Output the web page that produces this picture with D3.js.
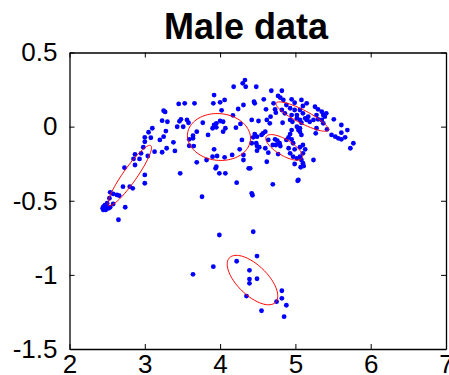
<!DOCTYPE html>
<html>
<head>
<meta charset="utf-8">
<script src="https://cdn.jsdelivr.net/npm/d3@7"></script>
<style>
  body { margin: 0; background: #fff; }
  svg { display: block; }
  text { font-family: "Liberation Sans", Arial, Helvetica, sans-serif; }
</style>
</head>
<body>
<svg id="chart" width="449" height="375"></svg>
<script>
// sample points (x, y)
var ptX = [4.33,4.30,4.34,4.18,4.48,3.92,4.00,4.06,3.91,4.31,4.45,3.45,3.53,3.66,3.25,3.27,4.02,4.24,4.17,3.23,
  3.30,3.46,3.48,3.56,3.58,3.77,3.51,3.43,3.92,3.95,4.00,4.04,3.90,3.95,4.07,4.04,4.21,4.27,4.42,4.51,
  3.10,3.05,3.28,3.25,3.20,3.00,3.00,3.08,3.69,3.64,3.64,3.59,3.84,4.29,4.46,4.42,4.49,3.38,3.65,3.59,
  3.29,3.23,3.13,3.92,4.26,3.40,2.98,2.95,3.04,2.87,2.85,2.93,3.96,3.90,4.06,4.16,4.31,3.82,3.69,4.31,
  4.38,3.95,3.94,3.99,4.07,3.47,2.73,2.87,3.00,3.00,4.22,2.71,2.80,2.84,3.76,4.42,4.43,2.54,2.58,2.63,
  2.66,2.53,2.58,2.74,2.65,2.45,2.47,2.49,2.52,2.45,2.44,2.48,2.54,2.50,3.99,4.44,3.91,3.64,4.22,4.49,
  4.39,4.39,4.39,4.49,4.35,4.82,4.82,4.75,4.88,4.55,4.85,4.70,5.03,
  4.68,4.82,4.77,4.80,4.58,4.46,4.84,4.95,5.08,5.15,4.88,4.99,5.10,4.71,4.73,4.74,4.61,4.67,4.82,4.86,
  4.93,4.99,5.02,5.06,5.10,5.13,5.15,5.17,5.19,5.26,5.30,5.35,5.37,5.39,5.41,5.28,5.24,5.30,5.35,5.37,
  5.51,4.95,4.93,4.96,5.02,5.06,5.08,4.62,4.66,4.83,5.02,5.04,5.06,4.95,4.93,5.06,5.08,5.28,5.27,5.42,
  5.61,5.69,5.48,5.53,5.57,5.61,5.66,5.61,5.77,5.73,4.49,4.44,4.57,4.60,4.55,4.64,4.73,4.76,4.79,4.74,
  4.80,4.70,4.88,4.91,4.95,4.97,4.48,4.52,4.60,4.49,4.91,4.99,5.06,5.10,5.13,4.93,4.97,5.02,5.06,5.10,
  4.64,4.77,4.62,4.99,5.10,5.07,5.11,5.08,5.24,4.40,5.04];
var ptY = [0.314,0.292,0.269,0.269,0.269,0.213,0.164,0.180,0.157,0.146,0.168,0.153,0.157,0.157,0.107,0.099,0.110,0.119,0.076,0.040,
  0.033,0.036,0.049,0.045,0.026,0.026,-0.001,-0.001,0.011,0.022,0.038,0.033,-0.011,-0.005,-0.011,-0.034,-0.007,0.018,0.045,0.038,
  -0.011,-0.038,-0.030,-0.068,-0.090,-0.072,-0.102,-0.075,-0.034,-0.061,-0.079,-0.086,-0.056,-0.090,-0.050,-0.112,-0.131,-0.106,-0.131,-0.129,
  -0.146,-0.173,-0.169,-0.153,-0.153,-0.164,-0.139,-0.180,-0.198,-0.187,-0.218,-0.218,-0.198,-0.203,-0.207,-0.191,-0.191,-0.225,-0.241,-0.225,
  -0.281,-0.270,-0.281,-0.315,-0.315,-0.315,-0.277,-0.259,-0.326,-0.382,-0.378,-0.405,-0.405,-0.416,-0.473,-0.450,-0.463,-0.443,-0.454,-0.461,
  -0.466,-0.483,-0.522,-0.544,-0.628,-0.540,-0.529,-0.540,-0.551,-0.562,-0.551,-0.562,-0.544,-0.517,-0.731,-0.709,-0.945,-0.996,-0.908,-0.873,
  -0.969,-1.028,-1.057,-1.026,-1.143,-1.107,-1.158,-1.181,-1.205,-1.242,-1.282,-0.389,-0.365,
  0.242,0.242,0.207,0.195,0.184,0.157,0.180,0.184,0.180,0.157,0.146,0.161,0.139,0.157,0.117,0.094,0.117,0.067,0.112,0.090,
  0.124,0.112,0.078,0.112,0.090,0.056,0.045,0.067,0.033,0.134,0.117,0.101,0.078,0.067,0.090,0.078,0.045,0.049,0.045,0.022,
  0.049,0.078,0.045,0.033,0.056,0.045,0.026,0.045,0.022,0.026,-0.001,-0.023,-0.011,-0.023,-0.050,-0.034,-0.056,-0.011,-0.045,-0.018,
  0.011,-0.023,-0.056,-0.068,-0.079,-0.086,-0.072,-0.041,-0.112,-0.146,-0.068,-0.072,-0.045,-0.034,-0.056,-0.090,-0.086,-0.095,-0.112,-0.124,
  -0.131,-0.124,-0.090,-0.072,-0.086,-0.112,-0.112,-0.139,-0.146,-0.162,-0.146,-0.153,-0.139,-0.124,-0.153,-0.180,-0.203,-0.214,-0.203,-0.180,
  -0.176,-0.185,-0.237,-0.252,-0.247,-0.274,-0.266,-0.225,-0.225,-0.281,-0.360];

// mixture components: centre, major and minor half-axis vectors
var ellCx = [2.80, 3.985, 5.09, 4.85, 4.43];
var ellCy = [-0.33, -0.070, 0.068, -0.14, -1.035];
var ellMajor = [[0.279, 0.202], [0.418, -0.020], [0.345, -0.091], [0.238, -0.073], [0.306, -0.150]];
var ellMinor = [[0.076, -0.027], [-0.029, -0.157], [-0.040, -0.039], [-0.055, -0.046], [-0.138, -0.073]];

var xTicks = [2, 3, 4, 5, 6, 7];
var yTicks = [0.5, 0, -0.5, -1, -1.5];
var title = "Male data";

// plot box edges in pixels
var boxL = 69.5, boxR = 446, boxT = 52.5, boxB = 349;

var svg = d3.select("#chart");
var x = d3.scaleLinear().domain([2, 7]).range([boxL, boxR]);
var y = d3.scaleLinear().domain([-1.5, 0.5]).range([boxB, boxT]);

// title
svg.append("text")
  .attr("x", 246)
  .attr("y", 39)
  .attr("text-anchor", "middle")
  .style("font-size", "36px")
  .style("font-weight", "bold")
  .text(title);

// points
svg.append("g").selectAll("circle")
  .data(d3.range(ptX.length))
  .enter().append("circle")
  .attr("cx", function(i){ return x(ptX[i]); })
  .attr("cy", function(i){ return y(ptY[i]); })
  .attr("r", 2.4)
  .attr("fill", "#0000ff");

// ellipses
var line = d3.line().curve(d3.curveLinearClosed);
svg.append("g").selectAll("path")
  .data(d3.range(ellCx.length))
  .enter().append("path")
  .attr("d", function(k){
    var pts = d3.range(0, 100).map(function(j){
      var t = j / 100 * 2 * Math.PI;
      var dx = Math.cos(t) * ellMajor[k][0] + Math.sin(t) * ellMinor[k][0];
      var dy = Math.cos(t) * ellMajor[k][1] + Math.sin(t) * ellMinor[k][1];
      return [x(ellCx[k] + dx), y(ellCy[k] + dy)];
    });
    return line(pts);
  })
  .attr("fill", "none")
  .attr("stroke", "#ff0000")
  .attr("stroke-width", 1);

// axes, ticks pointing inwards on all four sides
var fmt = function(d){ return String(d); };
var gx = svg.append("g").attr("transform", "translate(0," + boxB + ")")
  .call(d3.axisBottom(x).tickValues(xTicks).tickFormat(fmt).tickSizeInner(-5).tickSizeOuter(0).tickPadding(6));
var gy = svg.append("g").attr("transform", "translate(" + boxL + ",0)")
  .call(d3.axisLeft(y).tickValues(yTicks).tickFormat(fmt).tickSizeInner(-5).tickSizeOuter(0).tickPadding(12));
var gt = svg.append("g").attr("transform", "translate(0," + boxT + ")")
  .call(d3.axisTop(x).tickValues(xTicks).tickFormat("").tickSizeInner(-5).tickSizeOuter(0));
var gr = svg.append("g").attr("transform", "translate(" + boxR + ",0)")
  .call(d3.axisRight(y).tickValues(yTicks).tickFormat("").tickSizeInner(-5).tickSizeOuter(0));

[gx, gy, gt, gr].forEach(function(g){
  g.selectAll("path.domain").attr("stroke", "#000").attr("stroke-width", 1.3);
  g.selectAll(".tick line").attr("stroke", "#000").attr("stroke-width", 1);
  g.selectAll("text")
    .attr("fill", "#000")
    .style("font-family", "'Liberation Sans', Arial, Helvetica, sans-serif")
    .style("font-size", "26px");
});
</script>
</body>
</html>
